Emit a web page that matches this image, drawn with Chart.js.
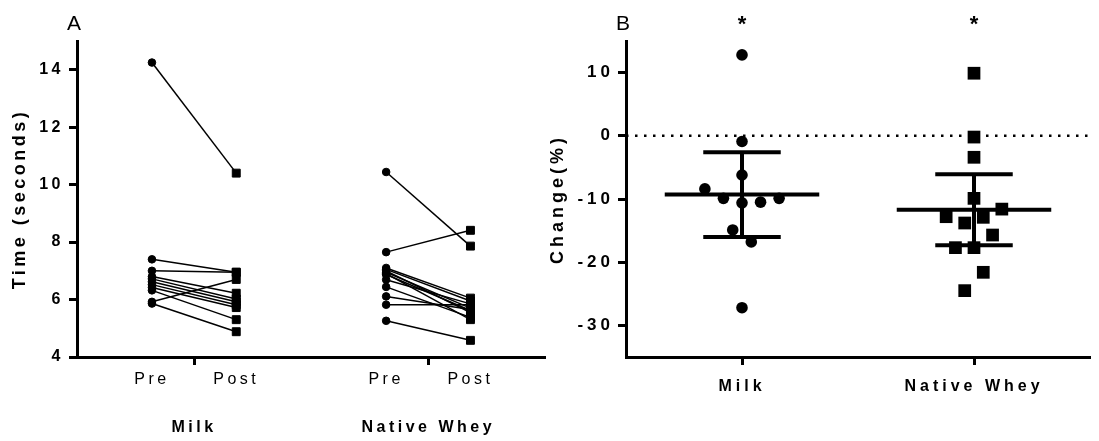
<!DOCTYPE html>
<html>
<head>
<meta charset="utf-8">
<script src="https://cdn.jsdelivr.net/npm/chart.js@4.4.1/dist/chart.umd.min.js"></script>
<style>
    html, body { margin: 0; padding: 0; background: #fff; }
    #wrap { position: relative; width: 1099px; height: 441px; overflow: hidden; }
    #chartA { position: absolute; left: 0; top: 0; }
    #chartB { position: absolute; left: 536px; top: 0; }
</style>
</head>
<body>
<div id="wrap">
    <canvas id="chartA" width="552" height="441"></canvas>
    <canvas id="chartB" width="563" height="441"></canvas>
</div>
<script>
const groups = ['Milk', 'Native Whey'];
const phases = ['Pre', 'Post'];
const timeTicks = [4, 6, 8, 10, 12, 14];
const changeTicks = [-30, -20, -10, 0, 10];

// panel A: sprint time per subject, seconds
const milkPre = [14.25, 7.40, 7.00, 5.92, 6.80, 6.72, 6.62, 6.52, 6.42, 6.32, 5.86];
const milkPost = [10.40, 6.95, 6.95, 6.70, 6.22, 6.02, 5.92, 5.82, 5.72, 5.30, 4.88];
const wheyPre = [10.44, 7.65, 5.26, 5.82, 7.10, 7.05, 7.00, 6.95, 6.90, 6.87, 6.69, 6.44, 6.11];
const wheyPost = [7.86, 8.41, 4.58, 5.82, 6.05, 5.95, 5.55, 5.70, 5.30, 5.62, 5.85, 5.38, 5.65];

// panel B: change in %, with mean and SD
const milkChange = [12.8, -0.9, -6.2, -8.4, -9.9, -10.6, -10.5, -9.9, -14.9, -16.8, -27.2];
const wheyChange = [9.9, -0.2, -3.4, -9.9, -11.6, -12.8, -13.8, -12.9, -15.7, -17.7, -17.7, -21.6, -24.5];
const changeMean = [-9.3, -11.7];
const changeSD = [6.7, 5.6];
const significance = ['*', '*'];

// horizontal spread of the column scatter (in category units)
const milkSpread = [0, 0, 0, -0.16, -0.08, 0, 0.08, 0.16, -0.04, 0.04, 0];
const wheySpread = [0, 0, 0, 0, 0.12, -0.12, -0.04, 0.04, 0.08, -0.08, 0, 0.04, -0.04];

Chart.defaults.font.family = "'Liberation Sans', Arial, sans-serif";
Chart.defaults.color = '#000';

const BLACK = '#000';
const PHASE_SHIFT = 0.18;

function spacing(px) {
    const set = chart => { chart.ctx.letterSpacing = px + 'px'; };
    return { id: 'spacing', beforeLayout: set, beforeDraw: set };
}

function panelLetter(text) {
    return {
        id: 'panelLetter',
        afterDraw(chart) {
            const c = chart.ctx;
            c.save();
            c.letterSpacing = '0px';
            c.font = "21px 'Liberation Sans', Arial, sans-serif";
            c.fillStyle = BLACK;
            c.textAlign = 'left';
            c.textBaseline = 'alphabetic';
            c.fillText(text, chart.chartArea.left - 10, 30);
            c.restore();
        }
    };
}

const starsPlugin = {
    id: 'stars',
    afterDraw(chart) {
        const c = chart.ctx;
        c.save();
        c.letterSpacing = '0px';
        c.font = "bold 22px 'Liberation Sans', Arial, sans-serif";
        c.fillStyle = BLACK;
        c.textAlign = 'center';
        significance.forEach((s, i) => {
            c.fillText(s, chart.scales.x.getPixelForValue(i + 1), chart.chartArea.top - 10);
        });
        c.restore();
    }
};

function axisStyle() {
    return {
        border: { color: BLACK, width: 3 },
        grid: { drawOnChartArea: false, tickLength: 8, tickWidth: 3, tickColor: BLACK }
    };
}

// ---------- panel A ----------
function pairSets(pre, post, center) {
    return pre.map((v, i) => ({
        data: [{ x: center - PHASE_SHIFT, y: v }, { x: center + PHASE_SHIFT, y: post[i] }],
        borderColor: BLACK,
        backgroundColor: BLACK,
        borderWidth: 1.5,
        pointStyle: ['circle', 'rect'],
        pointRadius: [3.8, 5.6],
        pointBorderWidth: 1
    }));
}

const xTicksA = [];
groups.forEach((g, i) => {
    xTicksA.push({ value: i + 1 - PHASE_SHIFT }, { value: i + 1 }, { value: i + 1 + PHASE_SHIFT });
});

const axA = axisStyle();
new Chart(document.getElementById('chartA'), {
    type: 'line',
    data: {
        datasets: [...pairSets(milkPre, milkPost, 1), ...pairSets(wheyPre, wheyPost, 2)]
    },
    options: {
        responsive: false,
        animation: false,
        layout: { padding: { top: 41, right: 2, left: 0, bottom: 0 } },
        plugins: { legend: { display: false }, tooltip: { enabled: false } },
        scales: {
            x: {
                type: 'linear',
                min: 0.5,
                max: 2.5,
                afterBuildTicks: s => { s.ticks = xTicksA.map(t => ({ value: t.value })); },
                afterFit: s => { s.height = 84; },
                border: axA.border,
                grid: {
                    drawOnChartArea: false, tickLength: 8, tickWidth: 3,
                    tickColor: c => (c.index % 3 === 1 ? BLACK : 'rgba(0,0,0,0)')
                },
                ticks: {
                    autoSkip: false,
                    maxRotation: 0,
                    padding: 5,
                    font: c => (c.index % 3 === 1
                        ? { size: 16, weight: 'bold', lineHeight: 2.4 }
                        : { size: 16, weight: 'normal' }),
                    callback: (v, i) => {
                        const g = Math.floor(i / 3);
                        if (i % 3 === 0) return phases[0];
                        if (i % 3 === 2) return phases[1];
                        return ['', groups[g]];
                    }
                }
            },
            y: {
                min: 4,
                max: 15,
                afterBuildTicks: s => { s.ticks = timeTicks.map(v => ({ value: v })); },
                afterFit: s => { s.width = 77; },
                border: axA.border,
                grid: axA.grid,
                ticks: { padding: 5, font: { size: 16, weight: 'bold' } },
                title: {
                    display: true,
                    text: 'Time (seconds)',
                    font: { size: 18, weight: 'bold' },
                    padding: { top: 9, bottom: 0 }
                }
            }
        }
    },
    plugins: [spacing(3.5), panelLetter('A')]
});

// ---------- panel B ----------
function segment(x1, y1, x2, y2) {
    return {
        data: [{ x: x1, y: y1 }, { x: x2, y: y2 }],
        showLine: true,
        borderColor: BLACK,
        borderWidth: 4,
        borderCapStyle: 'butt',
        pointRadius: 0
    };
}

function summarySets(i) {
    const c = i + 1, m = changeMean[i], sd = changeSD[i];
    return [
        segment(c - 0.333, m, c + 0.333, m),
        segment(c - 0.167, m + sd, c + 0.167, m + sd),
        segment(c - 0.167, m - sd, c + 0.167, m - sd),
        segment(c, m - sd, c, m + sd)
    ];
}

const axB = axisStyle();
new Chart(document.getElementById('chartB'), {
    type: 'scatter',
    data: {
        datasets: [
            {
                data: [{ x: 0.5, y: 0 }, { x: 2.5, y: 0 }],
                showLine: true,
                borderColor: BLACK,
                borderWidth: 2.5,
                borderDash: [2.5, 6.5],
                pointRadius: 0
            },
            ...summarySets(0),
            ...summarySets(1),
            {
                data: milkChange.map((v, i) => ({ x: 1 + milkSpread[i], y: v })),
                pointStyle: 'circle',
                pointRadius: 5.8,
                backgroundColor: BLACK,
                borderColor: BLACK,
                borderWidth: 0
            },
            {
                data: wheyChange.map((v, i) => ({ x: 2 + wheySpread[i], y: v })),
                pointStyle: 'rect',
                pointRadius: 9,
                backgroundColor: BLACK,
                borderColor: BLACK,
                borderWidth: 0
            }
        ]
    },
    options: {
        responsive: false,
        animation: false,
        layout: { padding: { top: 41, right: 0, left: 0, bottom: 0 } },
        plugins: { legend: { display: false }, tooltip: { enabled: false } },
        scales: {
            x: {
                type: 'linear',
                min: 0.5,
                max: 2.5,
                afterBuildTicks: s => { s.ticks = groups.map((g, i) => ({ value: i + 1 })); },
                afterFit: s => { s.height = 84; },
                border: axB.border,
                grid: axB.grid,
                ticks: {
                    autoSkip: false,
                    maxRotation: 0,
                    padding: 12,
                    font: { size: 16, weight: 'bold' },
                    callback: (v, i) => groups[i]
                }
            },
            y: {
                min: -35,
                max: 15,
                afterBuildTicks: s => { s.ticks = changeTicks.map(v => ({ value: v })); },
                afterFit: s => { s.width = 90; },
                border: axB.border,
                grid: axB.grid,
                ticks: { padding: 4, font: { size: 17, weight: 'bold' } },
                title: {
                    display: true,
                    text: 'Change(%)',
                    font: { size: 18, weight: 'bold' },
                    padding: { top: 11, bottom: 0 }
                }
            }
        }
    },
    plugins: [spacing(4), panelLetter('B'), starsPlugin]
});
</script>
</body>
</html>
